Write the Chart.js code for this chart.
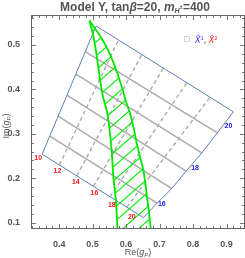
<!DOCTYPE html>
<html><head><meta charset="utf-8">
<script src="https://cdn.jsdelivr.net/npm/chart.js@4.4.0/dist/chart.umd.min.js"></script>
<style>html,body{margin:0;padding:0;background:#fff;overflow:hidden}</style>
</head><body>
<canvas id="c" width="245" height="258" style="width:245px;height:258px;display:block"></canvas>
<script>
// ---- axis ranges and tick labels ----
const xLimits = [0.316, 0.955];
const yLimits = [0.0855, 0.5676];
const xTickValues = [0.4, 0.5, 0.6, 0.7, 0.8, 0.9];
const yTickValues = [0.1, 0.2, 0.3, 0.4, 0.5];

// ---- parameter-grid boundary (blue) ----
const edgeTop = [[0.5104, 0.5429], [0.9203, 0.3495]];
const edgeLeft = [[0.5104, 0.5429], [0.3493, 0.2541]];
const edgeBottom = [[0.3493, 0.2541], [0.6516, 0.1113]];
const edgeRight = [[0.9203, 0.3495], [0.8725, 0.3021], [0.8260, 0.2570], [0.7791, 0.2158],
                   [0.7364, 0.1767], [0.6925, 0.1436], [0.6516, 0.1113]];

// ---- solid grey grid lines (start on left edge, end on right edge) ----
const solidStart = [[0.4782, 0.4851], [0.4500, 0.4346], [0.4236, 0.3872], [0.3970, 0.3398], [0.3719, 0.2947]];
const solidEnd = [[0.8725, 0.3021], [0.8260, 0.2570], [0.7791, 0.2158], [0.7364, 0.1767], [0.6925, 0.1436]];

// ---- dashed grey grid lines (start on lower edge, end on top edge) ----
const dashStart = [[0.4009, 0.2298], [0.4528, 0.2052], [0.5024, 0.1817], [0.5522, 0.1582], [0.6021, 0.1348]];
const dashEnd = [[0.5770, 0.5115], [0.6469, 0.4786], [0.7113, 0.4481], [0.7812, 0.4152], [0.8507, 0.3825]];

// ---- allowed band (green, hatched) ----
const bandLeft = [[0.4904, 0.5553], [0.5015, 0.5226], [0.5119, 0.4774], [0.5224, 0.4210], [0.5313, 0.3827],
                  [0.5433, 0.3489], [0.5507, 0.3083], [0.5567, 0.2631], [0.5621, 0.2022], [0.5701, 0.1436],
                  [0.5742, 0.0850]];
const bandRight = [[0.4904, 0.5553], [0.5224, 0.5203], [0.5463, 0.4887], [0.5672, 0.4504], [0.5872, 0.4053],
                   [0.6000, 0.3714], [0.6119, 0.3455], [0.6239, 0.3083], [0.6319, 0.2783], [0.6418, 0.2473],
                   [0.6516, 0.2180], [0.6582, 0.1842], [0.6636, 0.1503], [0.6687, 0.1210], [0.6738, 0.0850]];

// ---- contour labels ----
const redLabelText = ['10', '12', '14', '16', '18', '20'];
const redLabelX = [0.3373, 0.3949, 0.4499, 0.5054, 0.5573, 0.6170];
const redLabelY = [0.2451, 0.2164, 0.1916, 0.1655, 0.1391, 0.1127];
const blueLabelText = ['16', '18', '20'];
const blueLabelX = [0.7066, 0.8060, 0.9054];
const blueLabelY = [0.1407, 0.2219, 0.3173];

// ---- styles ----
const GREEN = '#00e800';
const HATCH = '#00ee00';
const EDGE = '#5e81b5';
const GRID = '#ababab';
const TXT = '#555555';
const FONT = '"Liberation Sans", Arial, sans-serif';

const toXY = pts => pts.map(p => ({x: p[0], y: p[1]}));
const lineDs = (pts, o) => Object.assign({data: toXY(pts), showLine: true, pointRadius: 0, pointHoverRadius: 0,
  fill: false, tension: 0, borderWidth: 1}, o);

const datasets = [];
datasets.push(lineDs(bandLeft, {borderColor: GREEN, borderWidth: 1.8, tension: 0.2}));
datasets.push(lineDs(bandRight, {borderColor: GREEN, borderWidth: 1.8, tension: 0.2}));
const HATCH_INDEX = datasets.length;
datasets.push(lineDs(bandLeft.concat(bandRight.slice().reverse()), {showLine: false, borderWidth: 0}));
[edgeTop, edgeLeft, edgeBottom, edgeRight].forEach(e => datasets.push(lineDs(e, {borderColor: EDGE, borderWidth: 1})));
solidStart.forEach((s, i) => datasets.push(lineDs([s, solidEnd[i]], {borderColor: GRID, borderWidth: 1.5})));
dashStart.forEach((s, i) => datasets.push(lineDs([s, dashEnd[i]], {borderColor: GRID, borderWidth: 1.4, borderDash: [4, 3]})));

function makePattern(ctx) {
  const w = 16, h = 14;
  const c = document.createElement('canvas'); c.width = w; c.height = h;
  const g = c.getContext('2d');
  g.strokeStyle = HATCH; g.lineWidth = 1.1;
  for (const off of [-h, 0, h]) { g.beginPath(); g.moveTo(-w, 2 * h + off); g.lineTo(2 * w, -h + off); g.stroke(); }
  return ctx.createPattern(c, 'repeat');
}

function drawRich(ctx, parts, x, y, align) {
  let total = 0;
  parts.forEach(p => { ctx.font = p.f; total += ctx.measureText(p.t).width; });
  let cx = align === 'left' ? x : x - total / 2;
  ctx.textBaseline = 'alphabetic'; ctx.textAlign = 'left';
  parts.forEach(p => { ctx.font = p.f; ctx.fillStyle = p.c || TXT; ctx.fillText(p.t, cx, y + (p.dy || 0)); cx += ctx.measureText(p.t).width; });
}

const hatchPlugin = {
  id: 'hatch',
  afterDatasetDraw(chart, args) {
    if (args.index !== HATCH_INDEX) return;
    const pts = args.meta.data, ctx = chart.ctx, a = chart.chartArea;
    ctx.save();
    ctx.beginPath(); ctx.rect(a.left, a.top, a.right - a.left, a.bottom - a.top); ctx.clip();
    ctx.beginPath();
    pts.forEach((p, i) => i ? ctx.lineTo(p.x, p.y) : ctx.moveTo(p.x, p.y));
    ctx.closePath();
    ctx.fillStyle = makePattern(ctx);
    ctx.fill();
    ctx.restore();
  }
};

const decoPlugin = {
  id: 'deco',
  afterDatasetsDraw(chart) {
    const ctx = chart.ctx, xs = chart.scales.x, ys = chart.scales.y;
    ctx.save();
    ctx.textAlign = 'center'; ctx.textBaseline = 'middle';
    ctx.font = 'bold 7px ' + FONT;
    ctx.fillStyle = '#ff1a1a';
    redLabelText.forEach((t, i) => ctx.fillText(t, xs.getPixelForValue(redLabelX[i]), ys.getPixelForValue(redLabelY[i])));
    ctx.fillStyle = '#1a1aff';
    blueLabelText.forEach((t, i) => ctx.fillText(t, xs.getPixelForValue(blueLabelX[i]), ys.getPixelForValue(blueLabelY[i])));
    ctx.restore();
  },
  afterDraw(chart) {
    const ctx = chart.ctx, a = chart.chartArea, xs = chart.scales.x, ys = chart.scales.y;
    ctx.save();
    // frame
    ctx.strokeStyle = '#666'; ctx.lineWidth = 1;
    ctx.strokeRect(a.left + 0.5, a.top + 0.5, a.right - a.left - 1, a.bottom - a.top - 1);
    // inward ticks
    ctx.strokeStyle = '#777';
    const major = 4, minor = 2;
    const xMinor = [], yMinor = [];
    for (let v = Math.ceil(xLimits[0] * 50) / 50; v < xLimits[1]; v += 0.02) xMinor.push(v);
    for (let v = Math.ceil(yLimits[0] * 50) / 50; v < yLimits[1]; v += 0.02) yMinor.push(v);
    ctx.beginPath();
    xMinor.forEach(v => {
      const isMaj = xTickValues.some(t => Math.abs(t - v) < 1e-6); const L = isMaj ? major : minor;
      const px = Math.round(xs.getPixelForValue(v)) + 0.5;
      ctx.moveTo(px, a.bottom - 1); ctx.lineTo(px, a.bottom - 1 - L);
      ctx.moveTo(px, a.top + 1); ctx.lineTo(px, a.top + 1 + L);
    });
    yMinor.forEach(v => {
      const isMaj = yTickValues.some(t => Math.abs(t - v) < 1e-6); const L = isMaj ? major : minor;
      const py = Math.round(ys.getPixelForValue(v)) + 0.5;
      ctx.moveTo(a.left + 1, py); ctx.lineTo(a.left + 1 + L, py);
      ctx.moveTo(a.right - 1, py); ctx.lineTo(a.right - 1 - L, py);
    });
    ctx.stroke();
    // title
    const B = 'bold 12px ' + FONT, BI = 'italic bold 12px ' + FONT;
    drawRich(ctx, [
      {t: 'Model Y, tan', f: B}, {t: 'β', f: BI}, {t: '=20, ', f: B}, {t: 'm', f: BI},
      {t: 'H', f: 'italic bold 7px ' + FONT, dy: 2}, {t: '±', f: 'bold 6px ' + FONT, dy: -2}, {t: '=400', f: B}
    ], 135, 11);
    // axis titles
    const N = '9px ' + FONT;
    drawRich(ctx, [{t: 'Re(', f: N}, {t: 'g', f: 'italic ' + N}, {t: 'P', f: 'italic 6px ' + FONT, dy: 2}, {t: ')', f: N}],
      (a.left + a.right) / 2, 255);
    ctx.save();
    ctx.translate(9, (a.top + a.bottom) / 2 + 4);
    ctx.rotate(-Math.PI / 2);
    drawRich(ctx, [{t: 'Im(', f: N}, {t: 'g', f: 'italic ' + N}, {t: 'P', f: 'italic 6px ' + FONT, dy: 2}, {t: ')', f: N}], 0, 0);
    ctx.restore();
    // legend
    ctx.strokeStyle = '#d0d4e4'; ctx.lineWidth = 1;
    ctx.strokeRect(184.5, 36.5, 5, 5);
    const LF = 'italic 8px "DejaVu Sans", sans-serif';
    drawRich(ctx, [
      {t: 'X\u0303', f: LF, c: '#3030ff'}, {t: '1', f: '5px "DejaVu Sans"', c: '#3030ff', dy: -3},
      {t: ', ', f: '8px "DejaVu Sans"', c: '#333'},
      {t: 'X\u0303', f: LF, c: '#ff2020'}, {t: '2', f: '5px "DejaVu Sans"', c: '#ff2020', dy: -3}
    ], 195, 43, 'left');
    ctx.restore();
  }
};

const tickFont = {family: FONT, size: 9, weight: 'bold'};
new Chart(document.getElementById('c'), {
  type: 'scatter',
  data: {datasets},
  options: {
    responsive: false, animation: false, devicePixelRatio: 1,
    layout: {padding: {top: 15, right: 0, left: 0, bottom: 0}},
    plugins: {legend: {display: false}, tooltip: {enabled: false}},
    scales: {
      x: {type: 'linear', min: xLimits[0], max: xLimits[1],
        grid: {display: false}, border: {display: false},
        afterBuildTicks: ax => { ax.ticks = xTickValues.map(v => ({value: v})); },
        afterFit: ax => { ax.height = 29; },
        ticks: {font: tickFont, color: TXT, padding: 2, maxRotation: 0, autoSkip: false, callback: v => v.toFixed(1)}},
      y: {type: 'linear', min: yLimits[0], max: yLimits[1],
        grid: {display: false}, border: {display: false},
        afterBuildTicks: ax => { ax.ticks = yTickValues.map(v => ({value: v})); },
        afterFit: ax => { ax.width = 31; },
        ticks: {font: tickFont, color: TXT, padding: 3, autoSkip: false, callback: v => v.toFixed(1)}}
    }
  },
  plugins: [hatchPlugin, decoPlugin]
});
</script>
</body></html>
